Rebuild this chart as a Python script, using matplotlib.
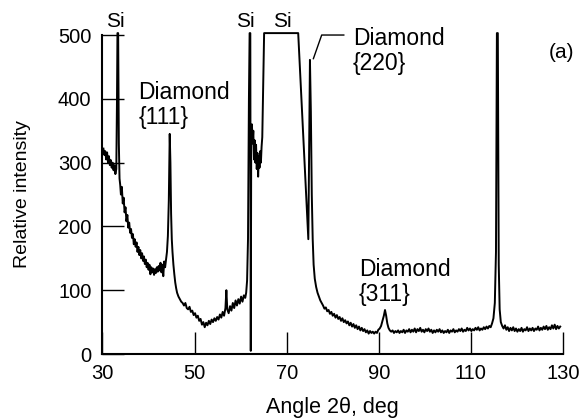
import numpy as np
import matplotlib
matplotlib.use("Agg")
import matplotlib.pyplot as plt

plt.rcParams['font.family'] = ['Liberation Sans', 'DejaVu Sans']

# diffraction scan, (angle 2theta [deg], counts); 503 = detector saturated
scan_30_45 = [
    (30.2, 322), (30.4, 312), (30.6, 318), (30.8, 305), (31.0, 316), (31.2, 300),
    (31.4, 310), (31.6, 296), (31.8, 304), (32.0, 292), (32.2, 300), (32.4, 288),
    (32.6, 296), (32.8, 282), (33.0, 290), (33.15, 400), (33.25, 503), (33.4, 503),
    (33.55, 330), (33.7, 275), (33.85, 265), (34.0, 250), (34.2, 262), (34.4, 236),
    (34.6, 245), (34.8, 222), (35.0, 230), (35.2, 208), (35.4, 218), (35.6, 198),
    (35.8, 206), (36.0, 190), (36.2, 196), (36.4, 182), (36.6, 188), (36.8, 172),
    (37.0, 180), (37.2, 168), (37.4, 175), (37.6, 160), (37.8, 168), (38.0, 155),
    (38.2, 163), (38.4, 150), (38.6, 158), (38.8, 146), (39.0, 153), (39.2, 141),
    (39.4, 148), (39.6, 136), (39.8, 143), (40.0, 132), (40.2, 140), (40.4, 125),
    (40.6, 136), (40.8, 128), (41.0, 134), (41.2, 124), (41.4, 133), (41.6, 127),
    (41.8, 136), (42.0, 129), (42.2, 138), (42.4, 131), (42.6, 143), (42.8, 128),
    (43.0, 140), (43.2, 122), (43.4, 145), (43.6, 136), (43.8, 148), (44.0, 160),
    (44.2, 185), (44.4, 240), (44.6, 345), (44.75, 300), (44.9, 220), (45.05, 180),
    (45.2, 160), (45.4, 140), (45.6, 125), (45.8, 112),
]

scan_46_65 = [
    (46.0, 103), (46.2, 96), (46.5, 90), (46.8, 86), (47.1, 82), (47.4, 80),
    (47.7, 76), (48.0, 80), (48.3, 72), (48.6, 70), (48.9, 74), (49.2, 66),
    (49.5, 68), (49.8, 61), (50.1, 64), (50.4, 57), (50.7, 60), (51.0, 52),
    (51.3, 55), (51.6, 46), (51.9, 50), (52.2, 42), (52.5, 49), (52.8, 45),
    (53.1, 52), (53.4, 47), (53.7, 54), (54.0, 50), (54.3, 56), (54.6, 52),
    (54.9, 58), (55.2, 54), (55.5, 62), (55.8, 57), (56.1, 66), (56.4, 60),
    (56.7, 72), (56.9, 100), (57.1, 70), (57.4, 64), (57.7, 75), (58.0, 68),
    (58.3, 80), (58.6, 72), (58.9, 84), (59.2, 76), (59.5, 86), (59.8, 79),
    (60.1, 90), (60.4, 82), (60.7, 92), (61.0, 88), (61.2, 96), (61.4, 115),
    (61.6, 180), (61.8, 400), (61.95, 503), (62.1, 503), (62.2, 5), (62.3, 340),
    (62.45, 360), (62.6, 330), (62.75, 350), (62.9, 305), (63.05, 335), (63.2, 300),
    (63.35, 328), (63.5, 290), (63.65, 315), (63.8, 278), (63.95, 310), (64.1, 292),
    (64.25, 318), (64.4, 300), (64.55, 325), (64.7, 340), (64.9, 420), (65.1, 503),
]

scan_72_90 = [
    (72.5, 503), (74.7, 180), (74.85, 300), (75.05, 461), (75.25, 380), (75.45, 250),
    (75.65, 180), (75.85, 140), (76.1, 118), (76.4, 105), (76.7, 96), (77.0, 90),
    (77.3, 84), (77.6, 80), (77.9, 76), (78.2, 71), (78.5, 73), (78.8, 67),
    (79.1, 69), (79.4, 63), (79.7, 66), (80.0, 60), (80.3, 63), (80.6, 57),
    (80.9, 61), (81.2, 55), (81.5, 58), (81.8, 52), (82.1, 56), (82.4, 50),
    (82.7, 53), (83.0, 48), (83.3, 51), (83.6, 45), (83.9, 49), (84.2, 43),
    (84.5, 47), (84.8, 41), (85.1, 45), (85.4, 39), (85.7, 43), (86.0, 37),
    (86.3, 41), (86.6, 36), (86.9, 39), (87.2, 34), (87.5, 37), (87.8, 32),
    (88.1, 36), (88.4, 33), (88.7, 35), (89.0, 32), (89.3, 35), (89.6, 33),
    (89.9, 38), (90.2, 40), (90.5, 44), (90.8, 52), (91.1, 60), (91.35, 69),
    (91.6, 60), (91.85, 48), (92.1, 41), (92.4, 37), (92.7, 35),
]

scan_93_130 = [
    (93.0, 37), (93.3, 33), (93.6, 36), (93.9, 34), (94.2, 37), (94.5, 33),
    (94.8, 36), (95.1, 34), (95.4, 38), (95.7, 33), (96.0, 37), (96.3, 35),
    (96.6, 39), (96.9, 34), (97.2, 38), (97.5, 35), (97.8, 40), (98.1, 34),
    (98.4, 39), (98.7, 36), (99.0, 41), (99.3, 35), (99.6, 38), (99.9, 34),
    (100.2, 39), (100.5, 36), (100.8, 40), (101.1, 35), (101.4, 38), (101.7, 33),
    (102.0, 37), (102.3, 34), (102.6, 38), (102.9, 35), (103.2, 39), (103.5, 34),
    (103.8, 37), (104.1, 33), (104.4, 36), (104.7, 34), (105.0, 38), (105.3, 33),
    (105.6, 37), (105.9, 35), (106.2, 39), (106.5, 34), (106.8, 37), (107.1, 35),
    (107.4, 39), (107.7, 36), (108.0, 40), (108.3, 35), (108.6, 38), (108.9, 36),
    (109.2, 41), (109.5, 37), (109.8, 40), (110.1, 36), (110.4, 39), (110.7, 37),
    (111.0, 41), (111.3, 38), (111.6, 42), (111.9, 37), (112.2, 40), (112.5, 38),
    (112.8, 42), (113.1, 39), (113.4, 43), (113.7, 40), (114.0, 44), (114.3, 42),
    (114.6, 48), (114.9, 56), (115.2, 80), (115.45, 160), (115.65, 503), (115.85, 503),
    (116.05, 140), (116.25, 70), (116.5, 50), (116.8, 44), (117.1, 40), (117.4, 45),
    (117.7, 38), (118.0, 42), (118.3, 36), (118.6, 41), (118.9, 37), (119.2, 42),
    (119.5, 36), (119.8, 40), (120.1, 35), (120.4, 39), (120.7, 36), (121.0, 41),
    (121.3, 35), (121.6, 39), (121.9, 37), (122.2, 42), (122.5, 36), (122.8, 40),
    (123.1, 37), (123.4, 41), (123.7, 36), (124.0, 40), (124.3, 38), (124.6, 43),
    (124.9, 37), (125.2, 41), (125.5, 38), (125.8, 43), (126.1, 39), (126.4, 44),
    (126.7, 38), (127.0, 42), (127.3, 39), (127.6, 45), (127.9, 40), (128.2, 46),
    (128.5, 39), (128.8, 44), (129.1, 40), (129.4, 43),
]

x_ticks = [30, 50, 70, 90, 110, 130]
y_ticks = [0, 100, 200, 300, 400, 500]

# peak labels: (text, angle, intensity)
si_labels = [("Si", 32.9, 506), ("Si", 61.1, 506), ("Si", 69.0, 506)]
diamond_labels = [("Diamond\n{111}", 37.8, 428), ("Diamond\n{220}", 84.4, 512),
                  ("Diamond\n{311}", 85.7, 150)]
leader_220 = ([82.4, 77.6, 75.8], [500, 500, 463])

scan = np.array(scan_30_45 + scan_46_65 + scan_72_90 + scan_93_130)

fig = plt.figure(figsize=(5.84, 4.19), dpi=100)
ax = fig.add_axes([0.1755, 0.1551, 0.7885, 0.7613])

ax.plot(scan[:, 0], scan[:, 1], color='black', lw=1.4, clip_on=False)

ax.set_xlim(30, 130)
ax.set_ylim(0, 500)
ax.set_xticks(x_ticks)
ax.set_yticks(y_ticks)
ax.tick_params(direction='in', length=16, width=1, labelsize=14.5)
ax.tick_params(axis='x', pad=7)
ax.tick_params(axis='y', pad=8)
for side in ['top', 'right']:
    ax.spines[side].set_visible(False)
for side in ['left', 'bottom']:
    ax.spines[side].set_linewidth(1.5)

ax.set_xlabel('Angle 2θ, deg', fontsize=15.5)
ax.set_ylabel('Relative intensity', fontsize=14)
ax.xaxis.set_label_coords(0.5, -0.135)
ax.yaxis.set_label_coords(-0.155, 0.5)

for text, x, y in si_labels:
    ax.text(x, y, text, ha='center', va='bottom', fontsize=15)
for text, x, y in diamond_labels:
    ax.text(x, y, text, ha='left', va='top', fontsize=16.5, linespacing=1.1)
ax.plot(*leader_220, color='black', lw=1, clip_on=False)
ax.text(129.6, 472, '(a)', ha='center', va='center', fontsize=15)

fig.savefig('out.png', dpi=100)
